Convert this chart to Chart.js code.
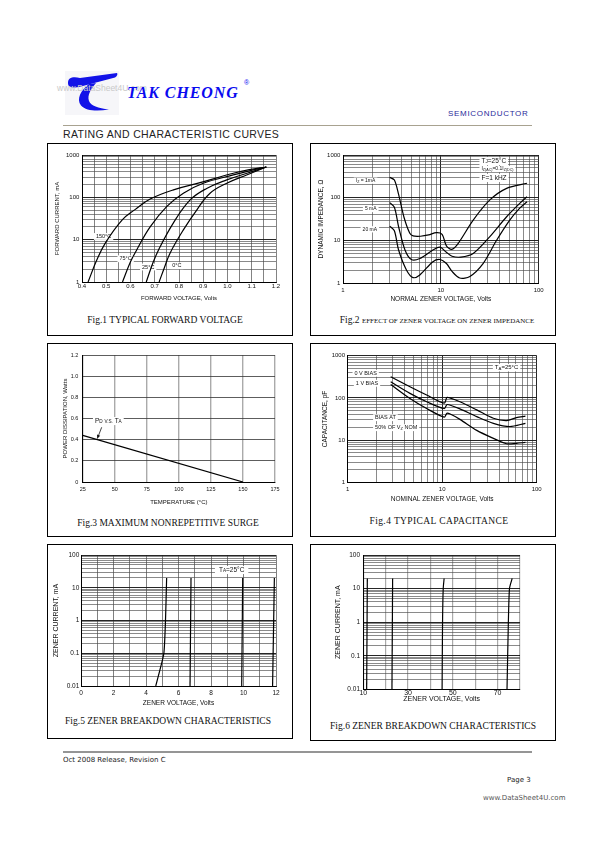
<!DOCTYPE html>
<html lang="en">
<head>
<meta charset="UTF-8">
<meta name="viewport" content="width=device-width, initial-scale=1.0">
<title>TAK CHEONG - Rating and Characteristic Curves</title>
<style>
  body { margin: 0; background: #fff; }
  .page { position: relative; width: 595px; height: 842px; overflow: hidden; font-family: "Liberation Sans", Arial, sans-serif; color: #111; }
  .page div, .page canvas, .page svg { position: absolute; }
  .box { border: 1.3px solid #000; box-sizing: border-box; }
  .cap { font-family: "Liberation Serif", "Times New Roman", serif; font-size: 9.5px; line-height: 1; white-space: nowrap; transform: translateX(-50%); color: #111; }
  .cap small { font-size: 7px; }
  .foot { font-family: "DejaVu Sans", Verdana, sans-serif; font-size: 7px; line-height: 1; white-space: nowrap; color: #222; }
</style>
</head>
<body>
<div class="page">
  <!-- header -->
  <div style="left:65px;top:71px;width:54px;height:44px;background:#f6f6f9;"></div>
  <svg style="left:60px;top:68px" width="70" height="48" viewBox="0 0 70 48">
    <path d="M8 15 C8 9.5 13 8.5 20 10 L57 5 C58 6 57 8.5 55 9.5 L21 18.5 C13 20.5 8 20 8 15 Z" fill="#1212e8"/>
    <path d="M29 16 C21 22 16 31 21 37.5 C26 43 37 43.5 49 41.5 C38 40 31 38 29 33 C27 27 31 21 36 15 Z" fill="#1212e8"/>
  </svg>
  <div style="left:57px;top:84px;font-size:8.5px;line-height:1;color:#c9c9c9;">www.DataSheet4U.com</div>
  <div style="left:127px;top:85px;font:italic bold 16px 'Liberation Serif',serif;line-height:1;letter-spacing:0.9px;color:#0a0af0;">TAK CHEONG</div>
  <div style="left:244px;top:79px;font-size:7px;line-height:1;color:#0a0af0;">&reg;</div>
  <div style="left:448px;top:110px;font-size:8px;line-height:1;letter-spacing:0.7px;color:#2a2a9a;">SEMICONDUCTOR</div>
  <div style="left:63px;top:125px;width:469px;height:1px;background:#a8a290;"></div>
  <div style="left:63px;top:129px;font-size:10.5px;line-height:1;letter-spacing:0.35px;color:#222;">RATING AND CHARACTERISTIC CURVES</div>

  <!-- frames -->
  <div class="box" style="left:47px;top:143px;width:246px;height:193px;"></div>
  <div class="box" style="left:310px;top:143px;width:246px;height:193px;"></div>
  <div class="box" style="left:47px;top:343px;width:246px;height:194px;"></div>
  <div class="box" style="left:310px;top:343px;width:246px;height:194px;"></div>
  <div class="box" style="left:47px;top:544px;width:246px;height:195px;"></div>
  <div class="box" style="left:310px;top:544px;width:246px;height:197px;"></div>

  <canvas id="c1" width="245" height="165" style="left:47px;top:143px;"></canvas>
  <canvas id="c2" width="246" height="165" style="left:310px;top:143px;"></canvas>
  <canvas id="c3" width="245" height="165" style="left:47px;top:343px;"></canvas>
  <canvas id="c4" width="246" height="165" style="left:310px;top:343px;"></canvas>
  <canvas id="c5" width="245" height="170" style="left:47px;top:544px;"></canvas>
  <canvas id="c6" width="246" height="170" style="left:310px;top:544px;"></canvas>

  <div class="cap" style="left:165px;top:316px;">Fig.1 TYPICAL FORWARD VOLTAGE</div>
  <div class="cap" style="left:437px;top:316px;">Fig.2 <small>EFFECT OF ZENER VOLTAGE ON ZENER IMPEDANCE</small></div>
  <div class="cap" style="left:168px;top:519px;">Fig.3 MAXIMUM NONREPETITIVE SURGE</div>
  <div class="cap" style="left:439px;top:517px;letter-spacing:0.4px;">Fig.4 TYPICAL CAPACITANCE</div>
  <div class="cap" style="left:168px;top:717px;">Fig.5 ZENER BREAKDOWN CHARACTERISTICS</div>
  <div class="cap" style="left:433px;top:722px;">Fig.6 ZENER BREAKDOWN CHARACTERISTICS</div>

  <!-- footer -->
  <div style="left:63px;top:751px;width:469px;height:1.7px;background:#959595;"></div>
  <div class="foot" style="left:63px;top:757px;">Oct 2008 Release, Revision C</div>
  <div class="foot" style="left:507px;top:777px;">Page 3</div>
  <div class="foot" style="left:483px;top:795px;color:#555;">www.DataSheet4U.com</div>
</div>

<script src="https://cdn.jsdelivr.net/npm/chart.js"></script>
<script>
  // Fig.1 typical forward voltage (Volts -> mA)
  const fig1V150 = [0.425, 0.46, 0.496, 0.565, 0.62, 0.681, 0.777, 0.887, 1.024, 1.09, 1.16];
  const fig1I150 = [1, 3.2, 8.3, 29, 52, 91, 150, 222, 370, 450, 520];
  const fig1V75 = [0.567, 0.6, 0.626, 0.681, 0.75, 0.818, 0.9, 1.024, 1.09, 1.16];
  const fig1I75 = [1, 3, 5.8, 20, 61, 125, 215, 338, 420, 520];
  const fig1V25 = [0.665, 0.69, 0.716, 0.777, 0.846, 0.914, 0.997, 1.08, 1.16];
  const fig1I25 = [1, 2.6, 5.8, 25, 87, 162, 258, 370, 520];
  const fig1V0 = [0.718, 0.74, 0.763, 0.818, 0.873, 0.928, 0.997, 1.079, 1.16];
  const fig1I0 = [1, 2.2, 4.8, 17, 50, 125, 215, 338, 520];
  const fig1XTicks = [0.4, 0.5, 0.6, 0.7, 0.8, 0.9, 1.0, 1.1, 1.2];
  const fig1YTicks = [1, 10, 100, 1000];

  // Fig.2 dynamic impedance (Volts -> Ohm) for Iz = 1, 5, 20 mA
  const fig2V1 = [3.0, 3.35, 3.7, 4.2, 4.8, 5.2, 6.2, 7.5, 9.0, 10.3, 11.4, 12.9, 15, 21.4, 31.7, 47, 76];
  const fig2Z1 = [300, 260, 120, 35, 15, 12.8, 12.6, 13.5, 15.3, 14, 7.5, 6.2, 8.5, 30, 89, 166, 218];
  const fig2V5 = [3.0, 3.35, 3.7, 4.3, 5.0, 6.1, 8.3, 9.8, 11.4, 13, 16, 21.4, 31.7, 47, 64, 76];
  const fig2Z5 = [77, 60, 21, 6, 3.6, 3.8, 6, 7, 5.3, 4.3, 4.1, 5.0, 12.4, 36, 74, 106];
  const fig2V20 = [3.0, 3.35, 3.7, 4.45, 5.2, 6.1, 8.3, 9.8, 11.4, 13, 15.6, 19.8, 27, 37, 50.6, 64, 76];
  const fig2Z20 = [21.8, 17, 6, 2.05, 1.36, 1.57, 3.2, 3.6, 2.9, 1.9, 1.33, 1.45, 2.9, 10, 30, 57, 81];
  const fig2XTicks = [1, 10, 100];
  const fig2YTicks = [1, 10, 100, 1000];

  // Fig.3 power derating (deg C -> Watts)
  const fig3Temp = [25, 150];
  const fig3Watt = [0.44, 0];
  const fig3XTicks = [25, 50, 75, 100, 125, 150, 175];
  const fig3YTicks = [0, 0.2, 0.4, 0.6, 0.8, 1.0, 1.2];

  // Fig.4 typical capacitance (Volts -> pF)
  const fig4V0 = [2.85, 4.56, 6.85, 10.5, 11.2, 12, 15.4, 23.2, 34.8, 48, 61, 76];
  const fig4C0 = [318, 184, 117, 75, 102, 100, 81, 52, 33, 29, 34, 37];
  const fig4V1 = [2.85, 4.56, 6.85, 10.5, 11.2, 12, 15.4, 23.2, 34.8, 52, 76];
  const fig4C1 = [240, 128, 81, 56, 69, 68, 55, 36, 25, 21, 25];
  const fig4VHalf = [2.85, 4.56, 6.85, 10.5, 11.2, 12, 15.4, 23.2, 34.8, 48, 61, 76];
  const fig4CHalf = [208, 97, 56, 35, 43, 42, 31, 17, 11, 8.2, 8.4, 8.8];
  const fig4XTicks = [1, 10, 100];
  const fig4YTicks = [1, 10, 100, 1000];

  // Fig.5 zener breakdown, low voltage parts (Volts -> mA)
  const fig5VA = [4.6, 4.85, 5.1, 5.2, 5.27];
  const fig5IA = [0.01, 0.03, 0.1, 1, 20];
  const fig5VB = [6.71, 6.77];
  const fig5IB = [0.01, 20];
  const fig5VC = [9.89, 9.95];
  const fig5IC = [0.01, 20];
  const fig5VD = [11.79, 11.9];
  const fig5ID = [0.01, 20];
  const fig5XTicks = [0, 2, 4, 6, 8, 10, 12];
  const fig5YTicks = [0.01, 0.1, 1, 10, 100];

  // Fig.6 zener breakdown, high voltage parts
  const fig6VA = [11.5, 11.8];
  const fig6IA = [0.01, 20];
  const fig6VB = [22.8, 23.1];
  const fig6IB = [0.01, 20];
  const fig6VC = [45.2, 45.4, 45.7, 46.1];
  const fig6IC = [0.01, 1, 10, 20];
  const fig6VD = [74.2, 74.8, 75.3, 76.5];
  const fig6ID = [0.01, 1, 10, 20];
  const fig6XTicks = [10, 30, 50, 70];
  const fig6YTicks = [0.01, 0.1, 1, 10, 100];

  const FONT = '"Liberation Sans", Arial, sans-serif';

  // grid helpers: 1..9 per decade between labelled decades, or fixed steps
  function minorGrid(decades) {
    const out = [];
    for (let i = 0; i < decades.length - 1; i++)
      for (let m = 1; m < 10; m++) out.push(+(decades[i] * m).toPrecision(4));
    out.push(decades[decades.length - 1]);
    return out;
  }
  function stepGrid(min, max, step) {
    const out = [];
    for (let v = min; v <= max + step / 1000; v += step) out.push(+v.toFixed(4));
    return out;
  }
  const isDecade = v => Math.abs(Math.log10(v) - Math.round(Math.log10(v))) < 1e-6;
  const pts = (xs, ys) => xs.map((x, i) => ({ x: x, y: ys[i] }));
  const curve = (xs, ys, tension) => ({
    data: pts(xs, ys), borderColor: '#000', borderWidth: 1.2, pointRadius: 0,
    tension: tension === undefined ? 0.4 : tension, fill: false
  });

  // text labels placed in data units
  function drawNotes(chart, items, bgPass) {
    const ctx = chart.ctx, sx = chart.scales.x, sy = chart.scales.y;
    (items || []).forEach(n => {
      ctx.save();
      if (n.arrow) {
        if (!bgPass) {
          const a = sx.getPixelForValue(n.x1), b = sy.getPixelForValue(n.y1);
          const c = sx.getPixelForValue(n.x2), d = sy.getPixelForValue(n.y2);
          ctx.strokeStyle = '#111'; ctx.lineWidth = 0.8;
          ctx.beginPath(); ctx.moveTo(a, b); ctx.lineTo(c, d); ctx.stroke();
          const ang = Math.atan2(d - b, c - a);
          ctx.beginPath(); ctx.moveTo(c, d);
          ctx.lineTo(c - 4 * Math.cos(ang - 0.45), d - 4 * Math.sin(ang - 0.45));
          ctx.lineTo(c - 4 * Math.cos(ang + 0.45), d - 4 * Math.sin(ang + 0.45));
          ctx.closePath(); ctx.fillStyle = '#111'; ctx.fill();
        }
        ctx.restore();
        return;
      }
      const size = n.size || 5.5;
      const parts = n.parts.map(p => (typeof p === 'string' ? [p, 0] : p));
      const fontOf = sub => (sub ? size * 0.72 : size) + 'px ' + FONT;
      let w = 0;
      parts.forEach(p => { ctx.font = fontOf(p[1]); w += ctx.measureText(p[0]).width; });
      const px = sx.getPixelForValue(n.x), py = sy.getPixelForValue(n.y);
      let left = n.align === 'left' ? px : px - w / 2;
      if (bgPass) {
        const pad = n.pad === undefined ? 2 : n.pad;
        ctx.fillStyle = '#fff';
        ctx.fillRect(left - pad, py - size * 0.62, w + pad * 2, size * 1.24);
      } else {
        ctx.fillStyle = '#111'; ctx.textBaseline = 'middle';
        parts.forEach(p => {
          ctx.font = fontOf(p[1]);
          ctx.fillText(p[0], left, py + (p[1] ? size * 0.18 : 0));
          left += ctx.measureText(p[0]).width;
        });
      }
      ctx.restore();
    });
  }
  const notePlugin = {
    id: 'notes',
    beforeDatasetsDraw(chart, args, opts) { drawNotes(chart, opts.items, true); },
    afterDatasetsDraw(chart, args, opts) { drawNotes(chart, opts.items, false); }
  };

  function axis(a, dir) {
    return {
      type: a.type, min: a.min, max: a.max, position: dir === 'x' ? 'bottom' : 'left',
      afterBuildTicks: s => { s.ticks = a.grid.map(v => ({ value: v })); },
      afterFit: s => { if (dir === 'x') s.height = a.size; else s.width = a.size; },
      ticks: {
        autoSkip: false, maxRotation: 0, minRotation: 0, padding: a.tickPad, color: '#111',
        font: { family: FONT, size: a.tickSize },
        callback: v => (a.labels.some(l => Math.abs(l - v) < 1e-9) ? (a.fmt ? a.fmt(v) : String(v)) : '')
      },
      grid: {
        drawTicks: false,
        color: c => (c.tick ? a.gridColor(c.tick.value) : '#444'),
        lineWidth: c => (c.tick ? a.gridWidth(c.tick.value) : 0.6)
      },
      border: { display: true, color: '#000', width: 1 },
      title: {
        display: true, text: a.title, color: '#111', font: { family: FONT, size: a.titleSize },
        padding: dir === 'x' ? { top: 0, bottom: a.titlePad } : { top: a.titlePad, bottom: 0 }
      }
    };
  }

  function plot(id, o) {
    return new Chart(document.getElementById(id), {
      type: 'line',
      data: { datasets: o.datasets },
      options: {
        responsive: false, animation: false, events: [],
        layout: { padding: { top: o.padTop, right: o.padRight, left: 0, bottom: 0 } },
        plugins: { legend: { display: false }, tooltip: { enabled: false }, notes: { items: o.notes } },
        scales: { x: axis(o.x, 'x'), y: axis(o.y, 'y') }
      },
      plugins: [notePlugin]
    });
  }

  const logColor = v => (isDecade(v) ? '#1a1a1a' : '#4a4a4a');
  const logWidth = v => (isDecade(v) ? 0.95 : 0.65);

  plot('c1', {
    padTop: 12, padRight: 16,
    datasets: [curve(fig1V150, fig1I150), curve(fig1V75, fig1I75), curve(fig1V25, fig1I25), curve(fig1V0, fig1I0)],
    x: { type: 'linear', min: 0.4, max: 1.2, grid: stepGrid(0.4, 1.2, 0.05), labels: fig1XTicks, fmt: v => v.toFixed(1),
         size: 26, tickSize: 6, tickPad: 1, title: 'FORWARD VOLTAGE, Volts', titleSize: 6, titlePad: 6,
         gridColor: () => '#5a5a5a', gridWidth: () => 0.75 },
    y: { type: 'logarithmic', min: 1, max: 1000, grid: minorGrid(fig1YTicks), labels: fig1YTicks,
         size: 35, tickSize: 6, tickPad: 2.7, title: 'FORWARD CURRENT, mA', titleSize: 6, titlePad: 6.4,
         gridColor: logColor, gridWidth: logWidth },
    notes: [
      { x: 0.489, y: 11.9, parts: ['150°C'] },
      { x: 0.58, y: 3.54, parts: ['75°C'] },
      { x: 0.673, y: 2.26, parts: ['25°C'] },
      { x: 0.791, y: 2.42, parts: ['0°C'] }
    ]
  });

  plot('c2', {
    padTop: 12, padRight: 17.3,
    datasets: [curve(fig2V1, fig2Z1, 0.3), curve(fig2V5, fig2Z5, 0.3), curve(fig2V20, fig2Z20, 0.3)],
    x: { type: 'logarithmic', min: 1, max: 100, grid: minorGrid(fig2XTicks), labels: fig2XTicks,
         size: 24.7, tickSize: 6, tickPad: 3.5, title: 'NORMAL ZENER VOLTAGE, Volts', titleSize: 6.5, titlePad: 4.8,
         gridColor: logColor, gridWidth: logWidth },
    y: { type: 'logarithmic', min: 1, max: 1000, grid: minorGrid(fig2YTicks), labels: fig2YTicks,
         size: 33, tickSize: 6, tickPad: 2.6, title: 'DYNAMIC IMPEDANCE, Ω', titleSize: 6.5, titlePad: 7.8,
         gridColor: logColor, gridWidth: logWidth },
    notes: [
      { x: 1.7, y: 251, parts: ['I', ['Z', 1], ' = 1mA'], size: 5 },
      { x: 1.92, y: 54.6, parts: ['5 mA'], size: 5 },
      { x: 1.88, y: 18.3, parts: ['20 mA'], size: 5 },
      { x: 26, y: 724, align: 'left', parts: ['T', ['J', 1], '=25°C'], size: 6.5 },
      { x: 26, y: 471, align: 'left', parts: ['I', ['Z(AC)', 1], '=0.1I', ['Z(DC)', 1]], size: 5 },
      { x: 26, y: 290, align: 'left', parts: ['F=1 kHZ'], size: 6.5 }
    ]
  });

  plot('c3', {
    padTop: 12, padRight: 17,
    datasets: [curve(fig3Temp, fig3Watt, 0)],
    x: { type: 'linear', min: 25, max: 175, grid: stepGrid(25, 175, 25), labels: fig3XTicks,
         size: 26, tickSize: 5.5, tickPad: 4, title: 'TEMPERATURE (°C)', titleSize: 6, titlePad: 2,
         gridColor: () => '#aaa', gridWidth: () => 1.4 },
    y: { type: 'linear', min: 0, max: 1.2, grid: stepGrid(0, 1.2, 0.2), labels: fig3YTicks, fmt: v => (v === 0 ? '0' : v.toFixed(1)),
         size: 35.7, tickSize: 5.5, tickPad: 4.4, title: 'POWER DISSIPATION, Watts', titleSize: 6, titlePad: 14.4,
         gridColor: () => '#333', gridWidth: () => 0.8 },
    notes: [
      { x: 45, y: 0.576, parts: ['P', ['D', 1], ' ', ['V.S.', 1], ' T', ['A', 1]], size: 6.5 },
      { arrow: true, x1: 39.8, y1: 0.517, x2: 36.4, y2: 0.41 }
    ]
  });

  plot('c4', {
    padTop: 12.7, padRight: 19.3,
    datasets: [curve(fig4V0, fig4C0, 0.3), curve(fig4V1, fig4C1, 0.3), curve(fig4VHalf, fig4CHalf, 0.3)],
    x: { type: 'logarithmic', min: 1, max: 100, grid: minorGrid(fig4XTicks), labels: fig4XTicks,
         size: 25.7, tickSize: 6, tickPad: 3.7, title: 'NOMINAL ZENER VOLTAGE, Volts', titleSize: 6.5, titlePad: 4.8,
         gridColor: logColor, gridWidth: logWidth },
    y: { type: 'logarithmic', min: 1, max: 1000, grid: minorGrid(fig4YTicks), labels: fig4YTicks,
         size: 37.7, tickSize: 6, tickPad: 2.7, title: 'CAPACITANCE, pF', titleSize: 6.5, titlePad: 11,
         gridColor: logColor, gridWidth: logWidth },
    notes: [
      { x: 48, y: 520, parts: ['T', ['A', 1], '=25°C'], size: 6 },
      { x: 1.55, y: 383, parts: ['0 V BIAS'], size: 5.5 },
      { x: 1.6, y: 222, parts: ['1 V BIAS'], size: 5.5 },
      { x: 1.95, y: 34, align: 'left', parts: ['BIAS AT'], size: 5.5 },
      { x: 1.95, y: 19.7, align: 'left', parts: ['50% OF V', ['Z', 1], ' NOM'], size: 5.5 }
    ]
  });

  plot('c5', {
    padTop: 11, padRight: 16,
    datasets: [curve(fig5VA, fig5IA, 0.2), curve(fig5VB, fig5IB, 0), curve(fig5VC, fig5IC, 0), curve(fig5VD, fig5ID, 0)],
    x: { type: 'linear', min: 0, max: 12, grid: stepGrid(0, 12, 1), labels: fig5XTicks,
         size: 28, tickSize: 6.5, tickPad: 3.5, title: 'ZENER VOLTAGE, Volts', titleSize: 6.5, titlePad: 6.8,
         gridColor: () => '#555', gridWidth: () => 0.75 },
    y: { type: 'logarithmic', min: 0.01, max: 100, grid: minorGrid(fig5YTicks), labels: fig5YTicks,
         size: 34, tickSize: 6.5, tickPad: 1.7, title: 'ZENER CURRENT, mA', titleSize: 7, titlePad: 4.8,
         gridColor: logColor, gridWidth: logWidth },
    notes: [
      { x: 9.27, y: 34.8, parts: ['T', ['A', 1], '=25°C'], size: 6.5, pad: 4 }
    ]
  });

  plot('c6', {
    padTop: 11, padRight: 36,
    datasets: [curve(fig6VA, fig6IA, 0), curve(fig6VB, fig6IB, 0), curve(fig6VC, fig6IC, 0.2), curve(fig6VD, fig6ID, 0.2)],
    x: { type: 'linear', min: 10, max: 80, grid: stepGrid(10, 80, 10), labels: fig6XTicks,
         size: 24.7, tickSize: 7, tickPad: 0, title: 'ZENER VOLTAGE, Volts', titleSize: 7, titlePad: 10.3,
         gridColor: () => '#aaa', gridWidth: () => 1.2 },
    y: { type: 'logarithmic', min: 0.01, max: 100, grid: minorGrid(fig6YTicks), labels: fig6YTicks,
         size: 53.3, tickSize: 6.5, tickPad: 3.3, title: 'ZENER CURRENT, mA', titleSize: 7, titlePad: 24,
         gridColor: logColor, gridWidth: logWidth },
    notes: []
  });
</script>
</body>
</html>
